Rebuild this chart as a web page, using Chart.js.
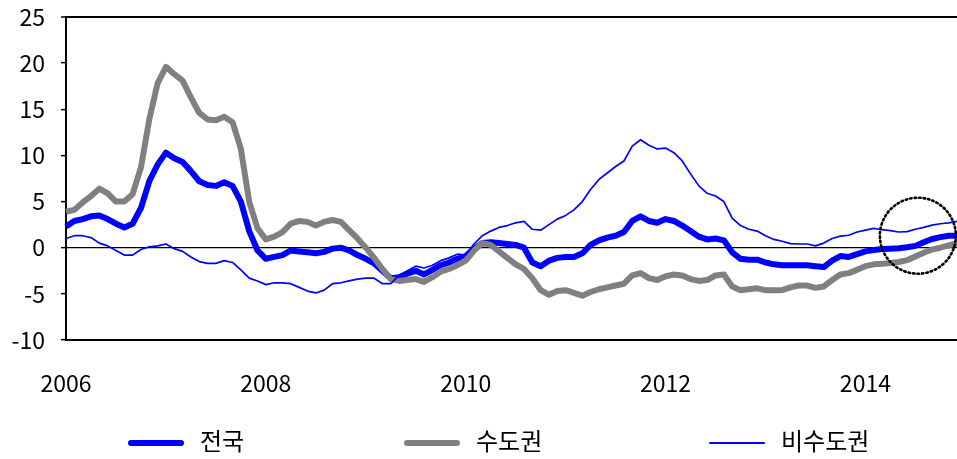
<!DOCTYPE html>
<html>
<head>
<meta charset="utf-8">
<script src="https://cdn.jsdelivr.net/npm/chart.js@4.4.1/dist/chart.umd.min.js"></script>
<style>
body { margin: 0; background: #fff; }
#wrap { position: relative; width: 957px; height: 459px; }
#chart { position: absolute; left: 0; top: 0; }
.legend_item { position: absolute; top: 424px; height: 32px; line-height: 32px; font-family: "Noto Sans CJK KR", sans-serif; font-size: 24px; color: #000; white-space: nowrap; }
.legend_line { display: inline-block; vertical-align: middle; width: 56px; margin-right: 16px; }
</style>
</head>
<body>
<div id="wrap">
    <canvas id="chart" width="957" height="459"></canvas>
    <div id="legend"></div>
</div>
<script>
// monthly, 2006-01 .. 2014-12
const years = [2006, 2007, 2008, 2009, 2010, 2011, 2012, 2013, 2014];
const x_tick_labels = ["2006", "2008", "2010", "2012", "2014"];
const y_ticks = [-10, -5, 0, 5, 10, 15, 20, 25];

const series_names = ["전국", "수도권", "비수도권"];

const national = [
    2.3, 2.9, 3.1, 3.4, 3.5, 3.1, 2.6, 2.2, 2.6, 4.3, 7.2, 9.0,
    10.3, 9.7, 9.3, 8.3, 7.2, 6.8, 6.7, 7.1, 6.7, 5.0, 1.8, -0.3,
    -1.2, -1.0, -0.8, -0.3, -0.4, -0.5, -0.6, -0.45, -0.1, 0.0, -0.3, -0.8,
    -1.2, -1.7, -2.5, -3.3, -3.2, -2.8, -2.5, -2.9, -2.4, -1.9, -1.6, -1.2,
    -0.9, -0.1, 0.5, 0.6, 0.5, 0.4, 0.3, 0.0, -1.6, -2.0, -1.4, -1.1,
    -1.0, -1.0, -0.6, 0.3, 0.8, 1.1, 1.3, 1.7, 2.9, 3.4, 2.9, 2.7,
    3.1, 2.9, 2.4, 1.8, 1.2, 0.9, 1.0, 0.8, -0.5, -1.2, -1.3, -1.3,
    -1.6, -1.8, -1.9, -1.9, -1.9, -1.9, -2.0, -2.1, -1.4, -0.9, -1.0, -0.7,
    -0.4, -0.25, -0.15, -0.1, -0.05, 0.05, 0.2, 0.6, 0.95, 1.15, 1.3, 1.3
];
const capital = [
    3.9, 4.1, 4.9, 5.6, 6.4, 5.9, 5.0, 5.0, 5.8, 8.7, 13.9, 17.8,
    19.6, 18.8, 18.1, 16.3, 14.6, 13.9, 13.8, 14.2, 13.6, 10.7, 5.0, 2.1,
    0.9, 1.2, 1.7, 2.6, 2.9, 2.8, 2.4, 2.8, 3.0, 2.8, 1.9, 1.0,
    0.0, -1.1, -2.3, -3.4, -3.6, -3.5, -3.4, -3.7, -3.2, -2.6, -2.3, -1.9,
    -1.4, -0.3, 0.5, 0.3, -0.4, -1.1, -1.8, -2.3, -3.3, -4.6, -5.1, -4.7,
    -4.6, -4.9, -5.2, -4.8, -4.5, -4.3, -4.1, -3.9, -3.0, -2.75, -3.3, -3.5,
    -3.1, -2.9, -3.0, -3.4, -3.6, -3.5, -3.0, -2.9, -4.2, -4.6, -4.5, -4.4,
    -4.6, -4.6, -4.6, -4.3, -4.1, -4.1, -4.35, -4.2, -3.5, -2.9, -2.75, -2.4,
    -2.0, -1.8, -1.75, -1.65, -1.55, -1.35, -0.95, -0.55, -0.2, 0.0, 0.25, 0.5
];
const non_capital = [
    1.0, 1.3, 1.3, 1.1, 0.5, 0.2, -0.3, -0.8, -0.8, -0.2, 0.1, 0.2,
    0.4, -0.1, -0.4, -1.0, -1.5, -1.7, -1.7, -1.4, -1.6, -2.4, -3.3, -3.6,
    -4.0, -3.8, -3.8, -3.9, -4.3, -4.7, -4.9, -4.6, -3.9, -3.8, -3.6, -3.4,
    -3.3, -3.3, -3.9, -3.9, -3.0, -2.5, -2.0, -2.2, -1.9, -1.4, -1.1, -0.7,
    -0.8, 0.4, 1.3, 1.8, 2.2, 2.4, 2.7, 2.85, 2.0, 1.9, 2.5, 3.1,
    3.5, 4.1, 5.0, 6.3, 7.4, 8.1, 8.8, 9.4, 11.0, 11.7, 11.1, 10.7,
    10.8, 10.3, 9.4, 8.0, 6.7, 5.9, 5.6, 5.0, 3.2, 2.4, 2.0, 1.8,
    1.3, 0.9, 0.7, 0.45, 0.4, 0.4, 0.2, 0.5, 1.0, 1.25, 1.35, 1.7,
    1.9, 2.1, 1.95, 1.85, 1.7, 1.75, 2.0, 2.2, 2.45, 2.6, 2.7, 2.85
];

// dotted circle marking the latest months: [month index, value]
const circle_at = [102.3, 1.3];

const colors = ["#0000ff", "#808080", "#0000ff"];
const widths = [6, 6, 1.7];

let labels = [];
for (const y of years) {
    for (let m = 1; m <= 12; m++) {
        labels.push(y + "-" + (m < 10 ? "0" + m : m));
    }
}

const circle_plugin = {
    id: "circle",
    afterDatasetsDraw(chart) {
        const ctx = chart.ctx;
        const cx = chart.scales.x.getPixelForValue(circle_at[0]);
        const cy = chart.scales.y.getPixelForValue(circle_at[1]);
        ctx.save();
        ctx.beginPath();
        ctx.setLineDash([1.5, 3]);
        ctx.lineCap = "round";
        ctx.lineWidth = 2.6;
        ctx.strokeStyle = "#000";
        ctx.arc(cx, cy, 38, 0, 2 * Math.PI);
        ctx.stroke();
        ctx.restore();
    }
};

const font = { family: "'Noto Sans CJK KR', sans-serif", size: 23 };
const all_data = [national, capital, non_capital];

new Chart(document.getElementById("chart"), {
    type: "line",
    data: {
        labels: labels,
        datasets: all_data.map((d, i) => ({
            label: series_names[i],
            data: d,
            borderColor: colors[i],
            backgroundColor: colors[i],
            borderWidth: widths[i],
            borderJoinStyle: "round",
            pointRadius: 0,
            tension: 0,
            order: 3 - i
        }))
    },
    options: {
        responsive: false,
        animation: false,
        events: [],
        layout: { padding: { top: 17, right: 0, bottom: 59, left: 0 } },
        plugins: {
            legend: { display: false },
            tooltip: { enabled: false }
        },
        scales: {
            x: {
                type: "category",
                offset: false,
                grid: { display: false, drawTicks: false },
                border: { display: true, color: "#000", width: 2 },
                afterFit: (scale) => {
                    scale.height = 60;
                    scale.paddingLeft = 0;
                    scale.paddingRight = 0;
                },
                ticks: {
                    autoSkip: false,
                    maxRotation: 0,
                    minRotation: 0,
                    padding: 29,
                    color: "#000",
                    font: font,
                    callback: function (value) {
                        const l = this.getLabelForValue(value);
                        const yr = l.slice(0, 4);
                        return (l.endsWith("-01") && x_tick_labels.includes(yr)) ? yr : "";
                    }
                }
            },
            y: {
                min: -10,
                max: 25,
                afterFit: (scale) => {
                    scale.width = 66;
                    scale.paddingTop = 0;
                    scale.paddingBottom = 0;
                },
                afterBuildTicks: (scale) => { scale.ticks = y_ticks.map((v) => ({ value: v })); },
                grid: {
                    drawOnChartArea: true,
                    color: (c) => (c.tick && (c.tick.value === 0 || c.tick.value === 25)) ? "#000" : "rgba(0,0,0,0)",
                    lineWidth: (c) => (c.tick && c.tick.value === 25) ? 2 : 1.3,
                    tickColor: "#000",
                    tickWidth: 1.5,
                    tickLength: 5
                },
                border: { display: true, color: "#000", width: 2 },
                ticks: {
                    padding: 16,
                    color: "#000",
                    font: font
                }
            }
        }
    },
    plugins: [circle_plugin]
});

// legend below the plot
const legend_left = [128, 404, 709];
const legend = document.getElementById("legend");
series_names.forEach((name, i) => {
    const item = document.createElement("div");
    item.className = "legend_item";
    item.style.left = legend_left[i] + "px";
    const line = document.createElement("span");
    line.className = "legend_line";
    line.style.height = (i < 2 ? 6 : 2) + "px";
    line.style.borderRadius = (i < 2 ? 3 : 1) + "px";
    line.style.background = colors[i];
    item.appendChild(line);
    item.appendChild(document.createTextNode(name));
    legend.appendChild(item);
});
</script>
</body>
</html>
